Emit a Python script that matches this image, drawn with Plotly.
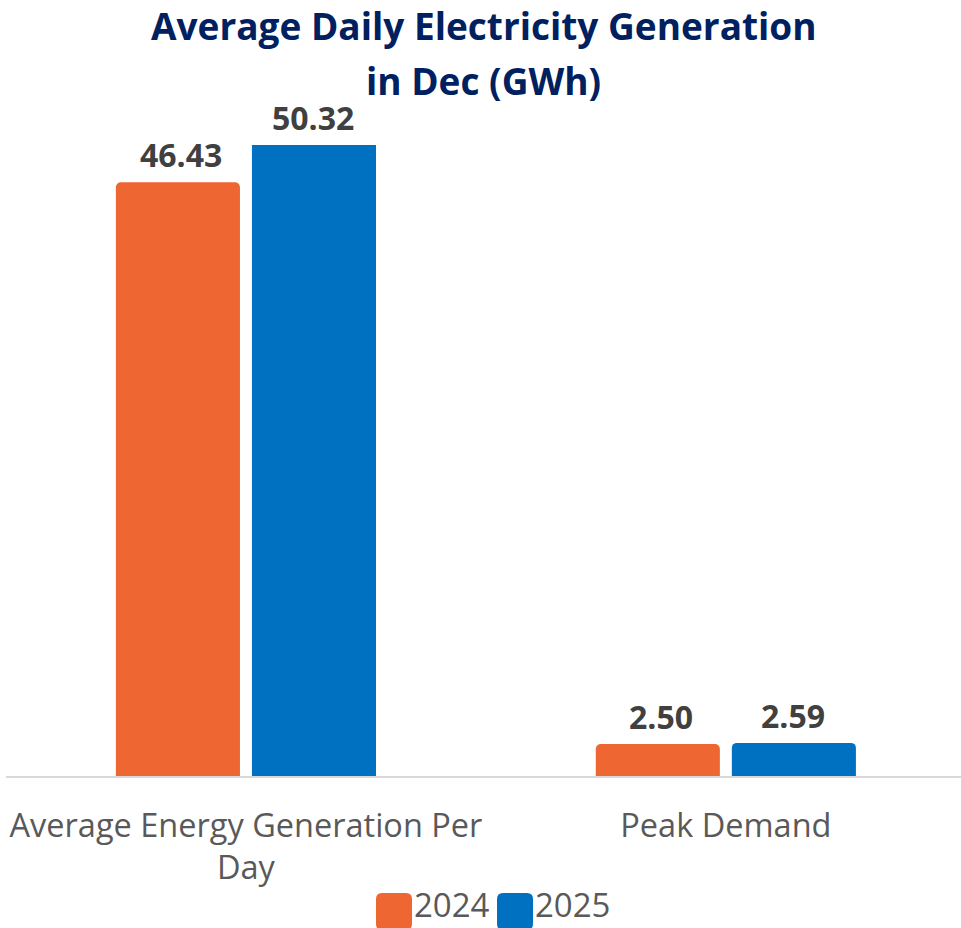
import plotly.graph_objects as go

# Average daily generation figures for December
categories = ["Average Energy Generation Per<br>Day", "Peak Demand"]
years = ["2024", "2025"]
values_2024 = [46.43, 2.50]
values_2025 = [50.32, 2.59]
title_lines = ["Average Daily Electricity Generation", "in Dec (GWh)"]

colors = {"2024": "#EE6632", "2025": "#0070C0"}

W, H = 961, 928
M_L, M_R, M_T, M_B = 6, 0, 145, 152
Y_MAX = 49.34

fig = go.Figure()
for year, vals in zip(years, [values_2024, values_2025]):
    fig.add_trace(go.Bar(
        x=categories, y=vals, name=year,
        marker=dict(color=colors[year], cornerradius=5, line=dict(width=0)),
        showlegend=False, hoverinfo="skip",
    ))

plot_h = H - M_T - M_B
plot_w = W - M_L - M_R


def px_to_paper(px, py):
    return (px - M_L) / plot_w, (H - M_B - py) / plot_h


# value labels above each bar (held at the top edge when a bar runs past it)
annotations = []
offsets = [-65, 67]
for year, vals, dx in zip(years, [values_2024, values_2025], offsets):
    for cat, v in zip(categories, vals):
        annotations.append(dict(
            x=cat, y=min(v, Y_MAX), xref="x", yref="y",
            text=f"<b>{v:.2f}</b>", showarrow=False,
            xshift=dx, yshift=4, yanchor="bottom",
            font=dict(family="Open Sans", size=32, color="#404040"),
        ))

# two-line title
for line, cy in zip(title_lines, [25, 80]):
    tx, ty = px_to_paper(W / 2, cy)
    annotations.append(dict(x=0.5, y=ty, xref="paper", yref="paper",
                            text=f"<b>{line}</b>", showarrow=False,
                            xanchor="center", yanchor="middle",
                            font=dict(family="Open Sans", size=37, color="#002060")))


def rounded_rect(x0, y0, x1, y1, r):
    (a0, b0), (a1, b1) = px_to_paper(x0, y0), px_to_paper(x1, y1)
    rx, ry = r / plot_w, r / plot_h
    return (f"M {a0+rx},{b0} L {a1-rx},{b0} Q {a1},{b0} {a1},{b0-ry} "
            f"L {a1},{b1+ry} Q {a1},{b1} {a1-rx},{b1} L {a0+rx},{b1} "
            f"Q {a0},{b1} {a0},{b1+ry} L {a0},{b0-ry} Q {a0},{b0} {a0+rx},{b0} Z")


# custom legend with rounded swatches
shapes = []
legend_items = [("2024", 376), ("2025", 497)]
for year, sx in legend_items:
    shapes.append(dict(type="path", xref="paper", yref="paper",
                       path=rounded_rect(sx, 893, sx + 36, 930, 6),
                       fillcolor=colors[year], line=dict(width=0)))
    tx, ty = px_to_paper(sx + 36, 904)
    annotations.append(dict(x=tx, y=ty, xref="paper", yref="paper",
                            text=year, showarrow=False, xanchor="left", yanchor="middle",
                            font=dict(family="Open Sans", size=33, color="#595959")))

fig.update_layout(
    width=W, height=H,
    margin=dict(l=M_L, r=M_R, t=M_T, b=M_B, pad=0),
    paper_bgcolor="white", plot_bgcolor="white",
    barmode="group", bargap=0.433, bargroupgap=0.088,
    xaxis=dict(range=[-0.5, 1.49], showline=True, linecolor="#D9D9D9", linewidth=2,
               ticks="", showgrid=False, zeroline=False, ticklabelstandoff=20,
               tickfont=dict(family="Open Sans", size=32.5, color="#595959")),
    yaxis=dict(range=[0, Y_MAX], visible=False, showgrid=False, zeroline=False),
    annotations=annotations, shapes=shapes,
)

fig.write_html("out.html")
